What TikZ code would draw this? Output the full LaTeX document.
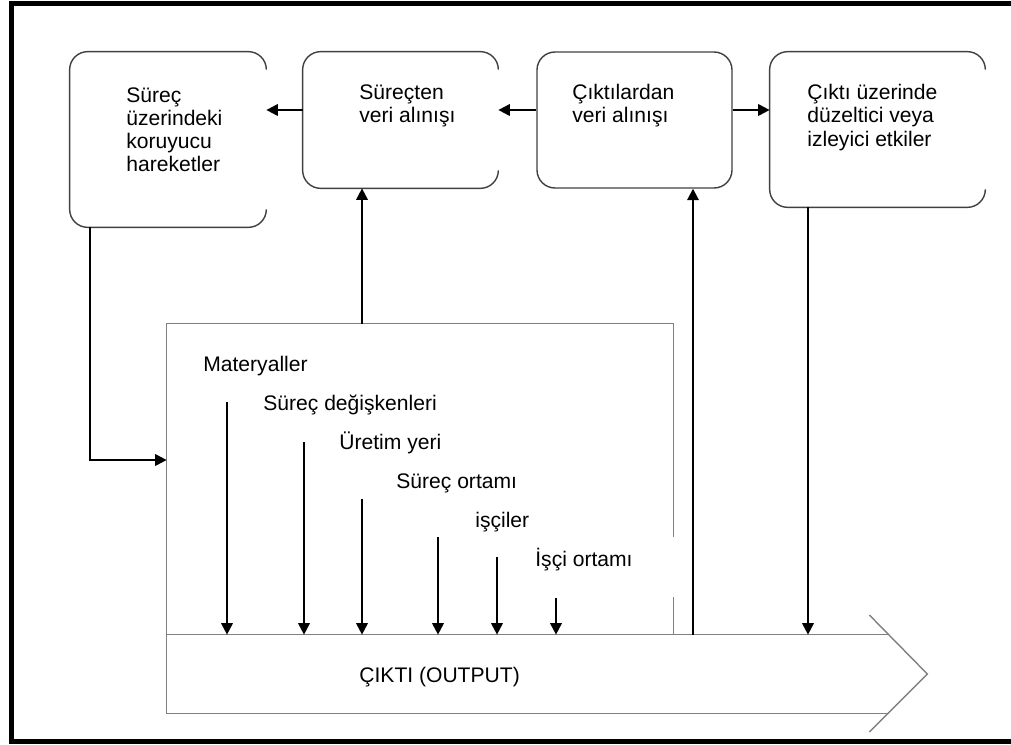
\documentclass[tikz,border=0pt]{standalone}
\usepackage{fontspec}
\setmainfont{Liberation Sans}
\usetikzlibrary{arrows.meta,positioning,calc}
\newdimen\px \px=0.02cm
\tikzstyle{box} = [draw=black!75,line width=0.8pt,rounded corners=18\px,inner sep=0pt]
\tikzstyle{openbox} = [inner sep=0pt]
\tikzstyle{lbl} = [inner sep=0pt,align=left,font=\fontsize{12pt}{13.2pt}\selectfont]
\tikzstyle{flow} = [draw=black!50,line width=0.8pt]
\tikzstyle{arr} = [line width=1.1pt,-{Triangle[length=6.5pt,width=6.5pt]}]
\tikzset{>=latex}

\begin{document}
\begin{tikzpicture}[x=\px,y=-\px]
    \useasboundingbox (0,0) rectangle (1011,744);
    \draw [line width=5\px] (1011,3) -- (11,3) -- (11,741) -- (1011,741);

    % top row
    \node [openbox,minimum width=196\px,minimum height=175\px] (koru) at (168,139.5) {};
    \node [openbox,minimum width=195\px,minimum height=136\px] (surec) at (400.5,120) {};
    \node [box,minimum width=195\px,minimum height=136\px] (cikdat) at (634.5,120) {};
    \node [openbox,minimum width=215\px,minimum height=155\px] (etki) at (877.5,129.5) {};
    \foreach \b in {koru,surec,etki}
      \draw [draw=black!75,line width=0.8pt,rounded corners=18\px] ($(\b.north east)+(0,18)$) -- (\b.north east) -- (\b.north west) -- (\b.south west) -- (\b.south east) -- ($(\b.south east)+(0,-18)$);

    \node [lbl,anchor=north west] (tkoru) at (126,87) {Süreç\\üzerindeki\\koruyucu\\hareketler};
    \node [lbl,anchor=north west] (tsurec) at (359,84) {Süreçten\\veri alınışı};
    \node [lbl,anchor=north west] (tcikdat) at (572,84) {Çıktılardan\\veri alınışı};
    \node [lbl,anchor=north west] (tetki) at (807,84) {Çıktı üzerinde\\düzeltici veya\\izleyici etkiler};

    \coordinate (row) at (0,110);
    \draw [arr] (surec.west |- row) -- (koru.east |- row);
    \draw [arr] (cikdat.west |- row) -- (surec.east |- row);
    \draw [arr] (cikdat.east |- row) -- (etki.west |- row);

    % process and output
    \node [openbox,minimum width=506\px,minimum height=311\px] (proc) at (420,479.5) {};
    \node [openbox,minimum width=722\px,minimum height=78\px] (out) at (528,674) {};
    \draw [flow] (proc.north east |- 0,537) -- (proc.north east) -- (proc.north west) -- (out.south west) -- (out.south east);
    \draw [flow] (proc.south east) -- ($(proc.south east)+(0,-38)$);
    \draw [flow] (out.north west) -- (out.north east);
    \draw [flow] ($(out.east)+(-20,-59)$) -- ($(out.east)+(38,0)$) -- ($(out.east)+(-20,58)$);
    \node [lbl,anchor=base west] (tout) at (359,682) {ÇIKTI (OUTPUT)};

    \foreach \txt/\tx/\ty/\ax/\ay [count=\i] in {Materyaller/203/371/227/402,Süreç değişkenleri/263/410/304/442,Üretim yeri/339/449/362/499,Süreç ortamı/396/488/438/537,işçiler/475/527/497/557,İşçi ortamı/535/566/556/598}
    {
      \node [lbl,anchor=base west] (f\i) at (\tx,\ty) {\txt};
      \coordinate (s\i) at (\ax,\ay);
      \draw [arr] (s\i) -- (s\i |- out.north);
    }

    \draw [arr] (proc.north -| 362,0) -- (surec.south -| 362,0);
    \draw [arr] (out.north -| 693,0) -- (cikdat.south -| 693,0);
    \draw [arr] (etki.south -| 808,0) -- (out.north -| 808,0);
    \draw [arr] (koru.south -| 90,0) |- (proc.west |- 0,460);
\end{tikzpicture}
\end{document}
